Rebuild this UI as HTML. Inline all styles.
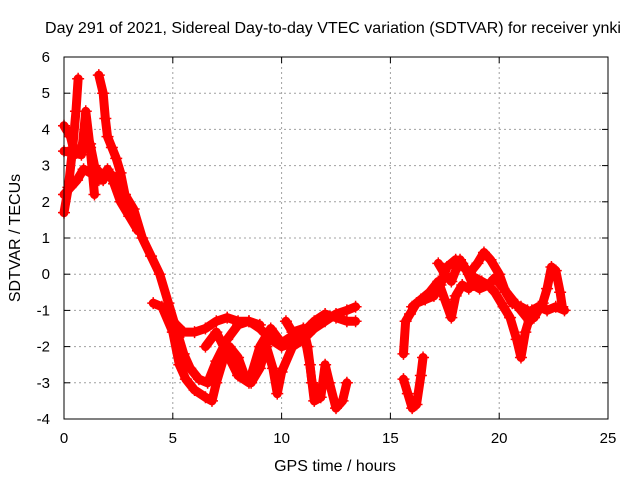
<!DOCTYPE html>
<html><head><meta charset="utf-8"><style>
body{margin:0;background:#fff}
svg{display:block;font-family:"Liberation Sans",sans-serif}
</style></head><body>
<svg id="chart" width="640" height="480">
<text x="333" y="33" text-anchor="middle" font-size="16">Day 291 of 2021, Sidereal Day-to-day VTEC variation (SDTVAR) for receiver ynki</text>
<text x="335" y="471" text-anchor="middle" font-size="16">GPS time / hours</text>
<text transform="translate(20,238) rotate(-90)" text-anchor="middle" font-size="16">SDTVAR / TECUs</text>
<g id="grid"></g><g id="ticks"></g><g id="series"></g>
<rect x="64" y="57" width="544" height="362" fill="none" stroke="#000" stroke-width="1"/>
</svg>
<script>
const xTicks=[0,5,10,15,20,25];
const yTicks=[-4,-3,-2,-1,0,1,2,3,4,5,6];
const t1=[[1.6,5.5],[1.8,5.0],[1.9,4.3],[2.0,3.8],[2.2,3.5],[2.4,3.2],[2.6,2.8],[2.8,2.2],[3.2,1.8],[3.6,1.0],[4.0,0.5],[4.4,0],[4.8,-0.8],[5.2,-1.6],[5.5,-2.2],[5.8,-2.6],[6.2,-2.9],[6.6,-3.0],[7.0,-2.4],[7.5,-1.8],[8.0,-1.4],[8.5,-1.3],[9.0,-1.4]];
const t2=[[0,1.7],[0.2,2.4],[0.4,3.5],[0.55,4.5],[0.65,5.4]];
const t3=[[0,4.1],[0.3,3.8],[0.5,3.3],[0.8,3.5],[1.0,3.9],[1.2,3.6],[1.4,3.0],[1.6,2.6],[1.8,2.6],[2.0,2.9],[2.3,2.5],[2.6,2.0],[3.0,1.6],[3.4,1.2]];
const t4=[[0,2.2],[0.3,2.4],[0.6,2.6],[0.9,2.9],[1.2,2.8],[1.5,2.9],[1.8,2.7],[2.1,2.8],[2.4,2.6],[2.7,2.2],[3.0,1.8]];
const t5=[[0,3.4],[0.8,3.3],[1.0,4.5],[1.2,3.5],[1.4,2.2]];
const t6=[[4.1,-0.8],[4.5,-0.9],[5.0,-1.6],[5.3,-2.5],[5.6,-2.9],[6.0,-3.2],[6.5,-3.4],[6.8,-3.5],[7.0,-3.0],[7.3,-2.4],[7.6,-2.0],[8.0,-2.3],[8.3,-2.8],[8.6,-3.0],[9.0,-2.6],[9.3,-2.0],[9.6,-2.6],[9.8,-3.3],[10.0,-2.7],[10.5,-2.0],[11.0,-1.8],[11.5,-1.5],[12,-1.3],[12.5,-1.1],[13,-1.0],[13.4,-0.9]];
const t7=[[5.0,-1.3],[5.5,-1.6],[6,-1.6],[6.5,-1.5],[7,-1.3],[7.5,-1.2],[8,-1.3],[8.5,-1.3],[9,-1.5],[9.5,-1.8],[10,-2.0],[10.5,-1.9],[11,-1.6],[11.5,-1.3],[12,-1.1],[12.5,-1.2],[13,-1.3],[13.4,-1.3]];
const t8=[[6.5,-2.0],[7,-1.6],[7.5,-2.2],[8,-2.8],[8.5,-3.0],[9,-2.0],[9.5,-1.5],[10,-1.9],[10.5,-1.7],[11,-1.5],[11.3,-2.5],[11.5,-3.5],[11.8,-3.4],[12,-2.5],[12.2,-3.0],[12.5,-3.7],[12.8,-3.5],[13,-3.0]];
const t9=[[10.2,-1.3],[10.5,-1.6],[11,-1.5],[11.2,-2.0],[11.4,-3.0],[11.6,-3.2]];
const r1=[[15.6,-2.9],[15.8,-3.3],[16.0,-3.7],[16.2,-3.6],[16.4,-2.8],[16.5,-2.3]];
const r2=[[15.6,-2.2],[15.7,-1.3],[15.9,-1.1],[16.2,-0.8],[16.6,-0.7],[17,-0.6],[17.3,-0.3],[17.6,0.2],[18,0.4],[18.3,0.3],[18.6,0.0],[19,0.3],[19.3,0.6],[19.6,0.4],[20,0.0],[20.3,-0.5],[20.6,-0.8],[21,-0.9],[21.3,-1.0],[21.6,-1.2],[22,-0.8],[22.2,-0.4],[22.4,0.2],[22.6,0.1],[22.8,-0.5],[22.9,-0.9]];
const r3=[[16.0,-0.9],[16.4,-0.7],[16.8,-0.5],[17.2,-0.2],[17.5,-0.7],[17.8,-1.2],[18,-0.6],[18.3,-0.3],[18.6,-0.4],[18.9,-0.1],[19.2,-0.2],[19.5,-0.3],[19.8,-0.5],[20.2,-0.9],[20.5,-1.2],[20.8,-1.8],[21.0,-2.3],[21.2,-1.6],[21.5,-1.0],[21.8,-0.9],[22.2,-1.0],[22.6,-0.9],[23,-1.0]];
const r4=[[17.2,0.3],[17.5,0.0],[17.8,-0.2],[18.2,0.4],[18.5,0.1],[18.8,-0.3],[19.1,-0.4],[19.5,-0.3],[19.8,-0.1],[20.2,-0.4],[20.6,-0.7],[21,-1.0],[21.4,-1.3]];
const tracks=[t1,t2,t3,t4,t5,t6,t7,t8,t9,r1,r2,r3,r4];
const X0=64,X1=608,Y0=419,Y1=57;
function sx(h){return X0+(h-0)/(25-0)*(X1-X0);}
function sy(v){return Y0-(v+4)/(10)*(Y0-Y1);}
const NS='http://www.w3.org/2000/svg';
function mk(tag,attrs,parent){const e=document.createElementNS(NS,tag);for(const k in attrs)e.setAttribute(k,attrs[k]);parent.appendChild(e);return e;}
const grid=document.getElementById('grid'),ticks=document.getElementById('ticks'),series=document.getElementById('series');
xTicks.forEach(t=>{const x=sx(t);
 if(t>0&&t<25){const g=mk('line',{x1:x,x2:x,y1:Y1,y2:Y0,stroke:'#a0a0a0','stroke-dasharray':'2,3'},grid);
 
 }
 mk('line',{x1:x,x2:x,y1:Y0,y2:Y0-6,stroke:'#000'},ticks);
 mk('line',{x1:x,x2:x,y1:Y1,y2:Y1+6,stroke:'#000'},ticks);
 const l=mk('text',{x:x,y:Y0+24,'text-anchor':'middle','font-size':'15'},ticks);l.textContent=t;
 
 });
yTicks.forEach(t=>{const y=sy(t);
 if(t>-4&&t<6){const g=mk('line',{x1:X0,x2:X1,y1:y,y2:y,stroke:'#a0a0a0','stroke-dasharray':'2,3'},grid);
 
 }
 mk('line',{x1:X0,x2:X0+6,y1:y,y2:y,stroke:'#000'},ticks);
 mk('line',{x1:X1,x2:X1-6,y1:y,y2:y,stroke:'#000'},ticks);
 const l=mk('text',{x:X0-14,y:y+5,'text-anchor':'end','font-size':'15'},ticks);l.textContent=t;
 
 });
tracks.forEach((tr,i)=>{
 const p=mk('polyline',{points:tr.map(d=>sx(d[0])+','+sy(d[1])).join(' '),fill:'none',stroke:'#f00','stroke-width':'9','stroke-linejoin':'round','stroke-linecap':'round'},series);
 
 
 tr.forEach(d=>{const x=sx(d[0]),y=sy(d[1]);
  const m=mk('path',{d:`M${x-6},${y}H${x+6}M${x},${y-6}V${y+6}`,stroke:'#f00','stroke-width':'1.5'},series);
  
  });
});
</script>
</body></html>
